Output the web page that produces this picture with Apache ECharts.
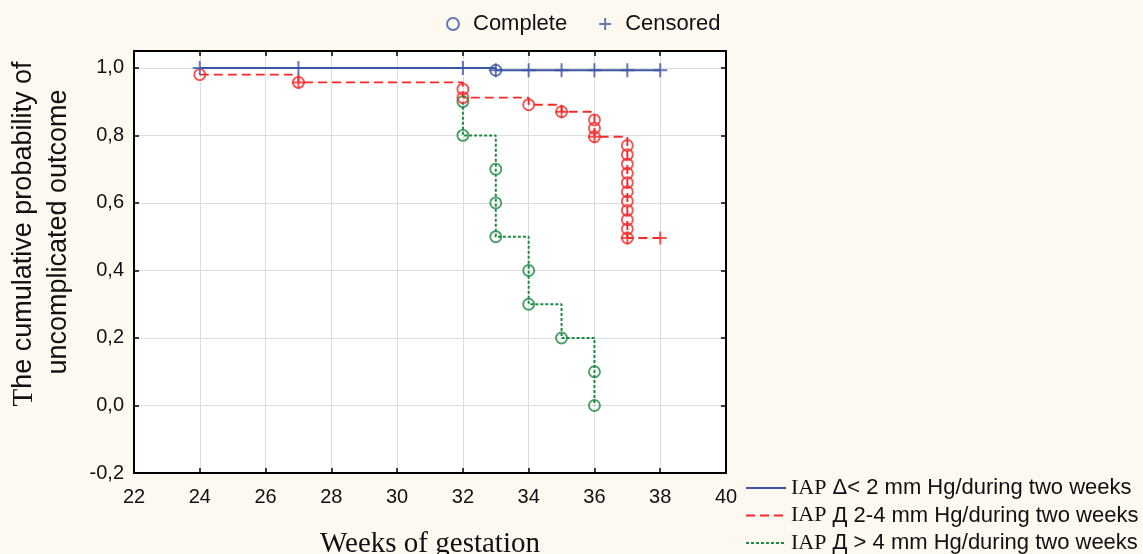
<!DOCTYPE html>
<html><head><meta charset="utf-8">
<script src="https://cdn.jsdelivr.net/npm/echarts@6/dist/echarts.min.js"></script>
<style>html,body{margin:0;padding:0;background:#fdf9f1;}#c{width:1143px;height:554px;}</style>
</head><body><div id="c"></div>
<script>
// ---- tick labels ----
const xTickLabels = ['22','24','26','28','30','32','34','36','38','40'];
const yTickLabels = ['-0,2','0,0','0,2','0,4','0,6','0,8','1,0'];

// ---- series names ----
const groupNames = [
  'IAP Δ< 2 mm Hg/during two weeks',
  'IAP Д 2-4 mm Hg/during two weeks',
  'IAP Д > 4 mm Hg/during two weeks'
];

// ---- Kaplan-Meier steps [week, cumulative probability] ----
const blueLine = [[24,1.0],[33,0.993],[38,0.993]];
const blueComplete = [[33,0.993]];
const blueCensored = [[24,1.0],[27,1.0],[32,1.0],[33,0.993],[34,0.993],[35,0.993],[36,0.993],[37,0.993],[38,0.993]];

const redLine = [[24,0.980],[27,0.957],[32,0.912],[34,0.891],[35,0.870],[36,0.796],[37,0.496],[38,0.496]];
const redComplete = [[24,0.980],[27,0.957],[32,0.937],[32,0.912],[34,0.891],[35,0.870],[36,0.846],[36,0.821],[36,0.796],
  [37,0.770],[37,0.743],[37,0.715],[37,0.688],[37,0.660],[37,0.633],[37,0.605],[37,0.578],[37,0.550],[37,0.523],[37,0.496]];
const redCensored = [[27,0.957],[35,0.870],[36,0.796],[37,0.496],[38,0.496]];

const greenLine = [[32,0.9],[32,0.8],[33,0.5],[34,0.3],[35,0.2],[36,0.0]];
const greenComplete = [[32,0.9],[32,0.8],[33,0.7],[33,0.6],[33,0.5],[34,0.4],[34,0.3],[35,0.2],[36,0.1],[36,0.0]];

// ---- styling ----
const BLUE = '#3d55a5', RED = '#f42a2a', GREEN = '#1b8a42';
const SANS = '"Liberation Sans", Arial, sans-serif';
const SERIF = '"Liberation Serif", "Times New Roman", serif';
const CROSS = 'path://M0,5L10,5M5,0L5,10';
const NONE = 'rgba(0,0,0,0)';

function circles(name, data, color, size) {
  return { name, type:'scatter', data, symbol:'circle', symbolSize:size, z:5,
    itemStyle:{ color:NONE, borderColor:color, borderWidth:1.9 } };
}
function crosses(name, data, color, size) {
  return { name, type:'scatter', data, symbol:CROSS, symbolSize:size, z:6,
    itemStyle:{ color:NONE, borderColor:color, borderWidth:2 } };
}
function stepLine(name, data, color, type, width, z) {
  return { name, type:'line', data, step:'end', symbol:'none', showSymbol:false, z,
    lineStyle:{ color, type, width }, itemStyle:{ color:NONE, borderWidth:0 } };
}

const axisLineStyle = { color:'#000', width:2 };
const tickStyle = { inside:true, length:5, lineStyle:{ color:'#000', width:1.5 } };
const chart = echarts.init(document.getElementById('c'), null, {renderer:'canvas'});
chart.setOption({
  backgroundColor:'#fdf9f1',
  animation:false,
  grid:{ left:134, right:417, top:51, bottom:81, show:true, backgroundColor:'#ffffff', borderWidth:0,
    containLabel:false, outerBoundsMode:'none' },
  legend:[
    { data:['Complete','Censored'], left:446, top:13, padding:0, itemWidth:12, itemHeight:12, itemGap:31,
      textStyle:{ fontFamily:SANS, fontSize:22, color:'#111', padding:[0,0,0,9] } },
    { data:groupNames, orient:'vertical', left:745, top:477, padding:0, itemWidth:40, itemHeight:14, itemGap:5.5,
      textStyle:{ fontFamily:SANS, fontSize:22, color:'#111', lineHeight:22,
        rich:{ s:{ fontFamily:SERIF, fontSize:22, color:'#111', lineHeight:22 } } },
      formatter: n => '{s|IAP} ' + n.slice(4) }
  ],
  xAxis:[
    { type:'value', min:22, max:40, interval:2, position:'bottom',
      axisLine:{ onZero:false, lineStyle:axisLineStyle }, axisTick:tickStyle,
      axisLabel:{ fontFamily:SANS, fontSize:20, color:'#111', margin:14,
        formatter: v => xTickLabels[Math.round((v-22)/2)] ?? '' },
      splitLine:{ show:true, lineStyle:{ color:'#dedede', width:1 } },
      name:'Weeks of gestation', nameLocation:'middle', nameGap:57,
      nameTextStyle:{ fontFamily:SERIF, fontSize:29, color:'#111' } },
    { type:'value', min:22, max:40, interval:2, position:'top',
      axisLine:{ onZero:false, lineStyle:axisLineStyle }, axisTick:tickStyle,
      axisLabel:{ show:false }, splitLine:{ show:false } }
  ],
  yAxis:[
    { type:'value', min:-0.2, max:1.05, interval:0.2, position:'left',
      axisLine:{ onZero:false, lineStyle:axisLineStyle }, axisTick:tickStyle,
      axisLabel:{ fontFamily:SANS, fontSize:20, color:'#111', margin:10,
        formatter: v => { const k = Math.round(v*5); return Math.abs(v*5-k) > 1e-6 ? '' : (yTickLabels[k+1] ?? ''); } },
      splitLine:{ show:true, lineStyle:{ color:'#dedede', width:1 } } },
    { type:'value', min:-0.2, max:1.05, interval:0.2, position:'right',
      axisLine:{ onZero:false, lineStyle:axisLineStyle }, axisTick:tickStyle,
      axisLabel:{ show:false }, splitLine:{ show:false } }
  ],
  graphic:[
    { type:'text', x:24, y:234, rotation:Math.PI/2, z:10,
      style:{ text:'{t|T}he cumulative probability of', fontFamily:SANS, fontSize:27, fill:'#111',
        align:'center', verticalAlign:'middle', textAlign:'center', textVerticalAlign:'middle',
        rich:{ t:{ fontFamily:SERIF, fontSize:29, fill:'#111' } } } },
    { type:'text', x:59, y:232, rotation:Math.PI/2, z:10,
      style:{ text:'uncomplicated outcome', fontFamily:SANS, fontSize:27, fill:'#111',
        align:'center', verticalAlign:'middle', textAlign:'center', textVerticalAlign:'middle' } }
  ],
  series:[
    stepLine(groupNames[2], greenLine, GREEN, [3,2], 2, 2),
    stepLine(groupNames[1], redLine, RED, [9,5], 1.9, 3),
    stepLine(groupNames[0], blueLine, BLUE, 'solid', 2, 4),
    circles('greenComplete', greenComplete, GREEN, 11),
    circles('redComplete', redComplete, RED, 11),
    crosses('redCensored', redCensored, RED, 13),
    circles('Complete', blueComplete, BLUE, 11),
    crosses('Censored', blueCensored, BLUE, 14)
  ]
});
</script></body></html>
